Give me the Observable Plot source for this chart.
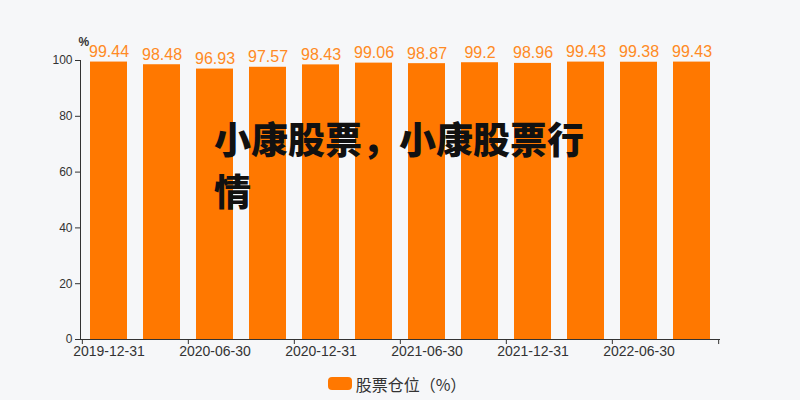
<!DOCTYPE html>
<html lang="zh-CN">
<head>
<meta charset="utf-8">
<script src="https://cdn.jsdelivr.net/npm/d3@7"></script>
<script src="https://cdn.jsdelivr.net/npm/@observablehq/plot@0.6"></script>
<style>
  html, body { margin: 0; padding: 0; background: #f6f7f9; }
  #wrap { position: relative; width: 800px; height: 400px; overflow: hidden; background: #f6f7f9; }
  #legend { position: absolute; left: 0; top: 366px; width: 800px; height: 35px; display: flex; justify-content: center; align-items: center;
    font-family: "Noto Sans CJK SC", sans-serif; font-size: 16px; color: #333;
    text-spacing-trim: space-all; font-kerning: none; font-feature-settings: "kern" 0, "chws" 0, "halt" 0, "palt" 0; }
  #legend .sw { width: 24px; height: 13px; border-radius: 4px; background: #ff7800; margin-right: 4px; margin-left: -6px; }
  #overlay { position: absolute; left: 214px; top: 112px; width: 385px; font-family: "Noto Sans CJK SC", sans-serif;
    font-weight: 900; font-size: 37px; line-height: 52px; color: #111; text-spacing-trim: space-all; }
</style>
</head>
<body>
<div id="wrap">
  <div id="chart"></div>
  <div id="legend"><span class="sw"></span><span id="legendText"></span></div>
  <div id="overlay"></div>
</div>
<script>
const dates = ["2019-12-31","2020-03-31","2020-06-30","2020-09-30","2020-12-31","2021-03-31","2021-06-30","2021-09-30","2021-12-31","2022-03-31","2022-06-30","2022-09-30"];
const values = [99.44, 98.48, 96.93, 97.57, 98.43, 99.06, 98.87, 99.2, 98.96, 99.43, 99.38, 99.43];
const yTicks = [0, 20, 40, 60, 80, 100];
const xTickLabels = ["2019-12-31","2020-06-30","2020-12-31","2021-06-30","2021-12-31","2022-06-30"];
const seriesName = "股票仓位（%）";
const unitLabel = "%";
const overlayTitle = "小康股票，小康股票行情";

const data = dates.map((d, i) => ({date: d, value: values[i]}));
const W = 800, H = 360, ML = 80, MR = 80, MT = 60, MB = 21;
const step = (W - ML - MR) / dates.length;

const chart = Plot.plot({
  width: W, height: H,
  marginLeft: ML, marginRight: MR, marginTop: MT, marginBottom: MB,
  style: {background: "#f6f7f9", fontFamily: "'Liberation Sans', 'Noto Sans CJK SC', sans-serif", color: "#333"},
  x: {type: "band", domain: dates, paddingInner: 0.3, paddingOuter: 0.15, axis: null},
  y: {domain: [0, 100], axis: null},
  marks: [
    Plot.barY(data, {x: "date", y: "value", fill: "#ff7800"}),
    Plot.text(data, {x: "date", y: "value", text: d => String(d.value), dy: -5, lineAnchor: "bottom", fill: "#ff8a24", fontSize: 16}),
    Plot.axisY({ticks: yTicks, tickSize: 5, tickPadding: 3, fontSize: 12, label: null, stroke: "#333", fill: "#333"}),
    Plot.frame({anchor: "left", stroke: "#333"}),
    Plot.ruleY([0], {stroke: "#333"}),
    Plot.axisX({ticks: xTickLabels, tickSize: 0, tickPadding: 7, fontSize: 14, label: null, fill: "#333"}),
    Plot.ruleX(xTickLabels, {x: d => d, y1: 0, y2: -1.8, dx: -step / 2, stroke: "#333"}),
    Plot.ruleX([dates[dates.length - 1]], {x: d => d, y1: 0, y2: -1.8, dx: step / 2, stroke: "#333"}),
    Plot.text([unitLabel], {frameAnchor: "top-left", dx: -2, dy: -23, fontSize: 12, fontWeight: "bold", fill: "#333", text: d => d})
  ]
});
document.getElementById("chart").appendChild(chart);
document.getElementById("legendText").textContent = seriesName;
document.getElementById("overlay").textContent = overlayTitle;
</script>
</body>
</html>
